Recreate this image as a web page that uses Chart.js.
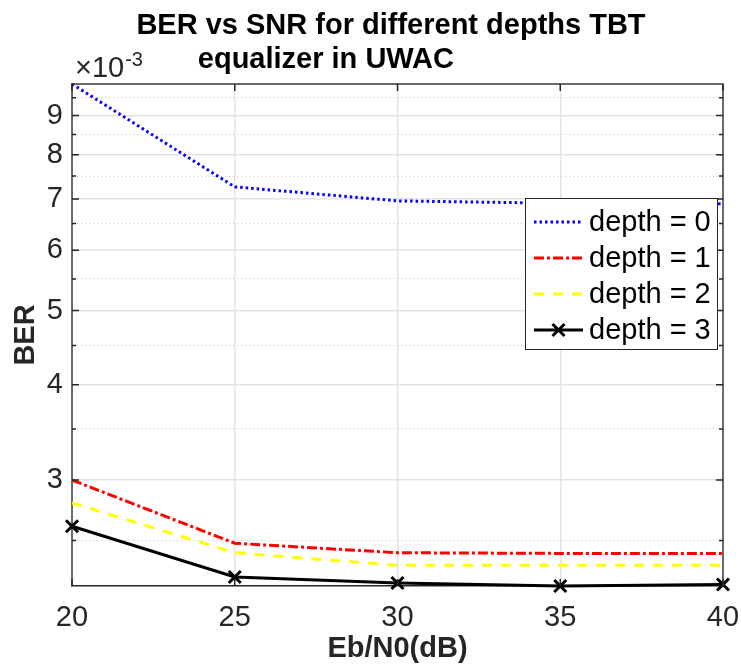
<!DOCTYPE html>
<html>
<head>
<meta charset="utf-8">
<script src="https://cdn.jsdelivr.net/npm/chart.js@4/dist/chart.umd.min.js"></script>
<style>
  html, body { margin: 0; padding: 0; background: #ffffff; }
  #wrap { width: 741px; height: 667px; }
</style>
</head>
<body>
<div id="wrap"><canvas id="chart-ber"></canvas></div>
<script>
// values, BER in units of 1e-3
const snr = [20, 25, 30, 35, 40];
const berDepth0 = [9.90, 7.26, 6.96, 6.91, 6.90];
const berDepth1 = [3.00, 2.48, 2.41, 2.405, 2.405];
const berDepth2 = [2.80, 2.41, 2.32, 2.32, 2.32];
const berDepth3 = [2.61, 2.24, 2.20, 2.18, 2.19];
const seriesNames = ['depth = 0', 'depth = 1', 'depth = 2', 'depth = 3'];
const yTicks = [2.5, 3, 3.5, 4, 4.5, 5, 5.5, 6, 6.5, 7, 7.5, 8, 8.5, 9, 9.5];
const xTicks = [20, 25, 30, 35, 40];
const yRange = [2.18, 9.90];
const yExponent = -3;

const FONT = '"Liberation Sans", Arial, Helvetica, sans-serif';
const TEXT = '#262626';
const scaleUnit = Math.pow(10, yExponent);

const isWhole = v => Math.abs(v / scaleUnit - Math.round(v / scaleUnit)) < 1e-6;
const toPoints = arr => snr.map((x, i) => ({ x: x, y: arr[i] * scaleUnit }));

const styles = [
    { color: '#0000ff', dash: [2.5, 3], marker: false },
    { color: '#ff0000', dash: [10, 3, 3, 3], marker: false },
    { color: '#ffff00', dash: [10, 9], marker: false },
    { color: '#000000', dash: [], marker: true }
];

const seriesData = [berDepth0, berDepth1, berDepth2, berDepth3];

const datasets = seriesData.map((arr, i) => ({
    label: seriesNames[i],
    data: toPoints(arr),
    borderColor: styles[i].color,
    backgroundColor: styles[i].color,
    borderDash: styles[i].dash,
    borderWidth: 3,
    tension: 0,
    clip: false,
    pointStyle: 'crossRot',
    pointRadius: styles[i].marker ? 8.5 : 0,
    pointBorderWidth: 3,
    pointHoverRadius: styles[i].marker ? 8.5 : 0
}));

function drawX(ctx, x, y, r) {
    ctx.beginPath();
    ctx.moveTo(x - r, y - r);
    ctx.lineTo(x + r, y + r);
    ctx.moveTo(x - r, y + r);
    ctx.lineTo(x + r, y - r);
    ctx.stroke();
}

const decorPlugin = {
    id: 'decor',
    afterDraw(chart) {
        const ctx = chart.ctx;
        const area = chart.chartArea;
        const xs = chart.scales.x;
        const ys = chart.scales.y;
        ctx.save();

        // box
        ctx.setLineDash([]);
        ctx.strokeStyle = '#3a3a3a';
        ctx.lineWidth = 1.5;
        ctx.beginPath();
        ctx.moveTo(area.left, area.top);
        ctx.lineTo(area.right, area.top);
        ctx.lineTo(area.right, area.bottom);
        ctx.stroke();

        // inward tick marks
        ctx.strokeStyle = '#262626';
        ctx.lineWidth = 1.5;
        ctx.beginPath();
        yTicks.forEach(v => {
            const py = ys.getPixelForValue(v * scaleUnit);
            const len = Number.isInteger(v) ? 7 : 4;
            ctx.moveTo(area.left, py);
            ctx.lineTo(area.left + len, py);
            ctx.moveTo(area.right, py);
            ctx.lineTo(area.right - len, py);
        });
        xTicks.forEach(v => {
            const px = xs.getPixelForValue(v);
            ctx.moveTo(px, area.bottom);
            ctx.lineTo(px, area.bottom - 7);
            ctx.moveTo(px, area.top);
            ctx.lineTo(px, area.top + 7);
        });
        ctx.stroke();

        // title
        ctx.fillStyle = '#000000';
        ctx.textBaseline = 'alphabetic';
        ctx.textAlign = 'center';
        ctx.font = `bold 29px ${FONT}`;
        ctx.fillText('BER vs SNR for different depths TBT', area.left + area.width * 0.49, 34);
        ctx.fillText('equalizer in UWAC', area.left + area.width * 0.39, 68);

        // exponent label
        ctx.fillStyle = TEXT;
        ctx.textAlign = 'left';
        ctx.font = `29px ${FONT}`;
        ctx.fillText('\u00d710', area.left + 3, 77);
        const w = ctx.measureText('\u00d710').width;
        ctx.font = `20px ${FONT}`;
        ctx.fillText(String(yExponent), area.left + 3 + w + 1, 66);

        // legend
        const boxW = 192;
        const boxH = 151;
        const boxX = area.right - 6 - boxW;
        const boxY = area.top + 114;
        ctx.fillStyle = '#ffffff';
        ctx.fillRect(boxX, boxY, boxW, boxH);
        ctx.strokeStyle = '#262626';
        ctx.lineWidth = 1;
        ctx.strokeRect(boxX + 0.5, boxY + 0.5, boxW, boxH);

        ctx.font = `29px ${FONT}`;
        ctx.textBaseline = 'middle';
        chart.data.datasets.forEach((ds, i) => {
            const cy = boxY + 24 + i * 36;
            ctx.strokeStyle = ds.borderColor;
            ctx.lineWidth = ds.borderWidth;
            ctx.setLineDash(ds.borderDash);
            ctx.beginPath();
            ctx.moveTo(boxX + 9, cy);
            ctx.lineTo(boxX + 58, cy);
            ctx.stroke();
            ctx.setLineDash([]);
            if (ds.pointRadius > 0) {
                drawX(ctx, boxX + 33.5, cy, 6);
            }
            ctx.fillStyle = '#000000';
            ctx.fillText(ds.label, boxX + 64, cy + 1);
        });

        ctx.restore();
    }
};

new Chart(document.getElementById('chart-ber'), {
    type: 'line',
    data: { datasets: datasets },
    options: {
        responsive: true,
        maintainAspectRatio: false,
        animation: false,
        events: [],
        layout: { padding: { top: 84, right: 18, left: 0, bottom: 0 } },
        plugins: {
            legend: { display: false },
            title: { display: false },
            tooltip: { enabled: false }
        },
        scales: {
            x: {
                type: 'linear',
                min: snr[0],
                max: snr[snr.length - 1],
                afterBuildTicks: scale => {
                    scale.ticks = xTicks.map(v => ({ value: v }));
                },
                ticks: {
                    autoSkip: false,
                    maxRotation: 0,
                    color: TEXT,
                    padding: 15,
                    font: { family: FONT, size: 29 }
                },
                grid: {
                    drawTicks: false,
                    lineWidth: 1.5,
                    color: ctx => (ctx.tick && (ctx.tick.value === snr[0] || ctx.tick.value === snr[snr.length - 1])) ? 'rgba(0,0,0,0)' : '#e3e3e3'
                },
                border: { display: true, color: '#262626', width: 1.5 },
                title: {
                    display: true,
                    text: 'Eb/N0(dB)',
                    color: TEXT,
                    padding: { top: 0, bottom: 1 },
                    font: { family: FONT, size: 29, weight: 'bold' }
                },
                afterFit: scale => {
                    scale.height = 81;
                    scale.paddingLeft = 0;
                    scale.paddingRight = 0;
                }
            },
            y: {
                type: 'logarithmic',
                min: yRange[0] * scaleUnit,
                max: yRange[1] * scaleUnit,
                afterBuildTicks: scale => {
                    scale.ticks = yTicks.map(v => ({ value: v * scaleUnit, whole: Number.isInteger(v) }));
                },
                ticks: {
                    autoSkip: false,
                    color: TEXT,
                    padding: 9,
                    font: { family: FONT, size: 29 },
                    callback: value => isWhole(value) ? String(Math.round(value / scaleUnit)) : ''
                },
                grid: {
                    drawTicks: false,
                    lineWidth: ctx => (ctx.tick && ctx.tick.whole) ? 1.5 : 1,
                    color: ctx => (ctx.tick && ctx.tick.whole) ? '#e3e3e3' : '#c4c4c4'
                },
                border: {
                    display: true,
                    color: '#6a6a6a',
                    width: 2,
                    dash: ctx => (ctx.tick && !ctx.tick.whole) ? [1, 3] : []
                },
                title: {
                    display: true,
                    text: 'BER',
                    color: TEXT,
                    padding: { top: 9, bottom: 0 },
                    font: { family: FONT, size: 29, weight: 'bold' }
                },
                afterFit: scale => {
                    scale.width = 72;
                    scale.paddingTop = 0;
                    scale.paddingBottom = 0;
                }
            }
        }
    },
    plugins: [decorPlugin]
});
</script>
</body>
</html>
